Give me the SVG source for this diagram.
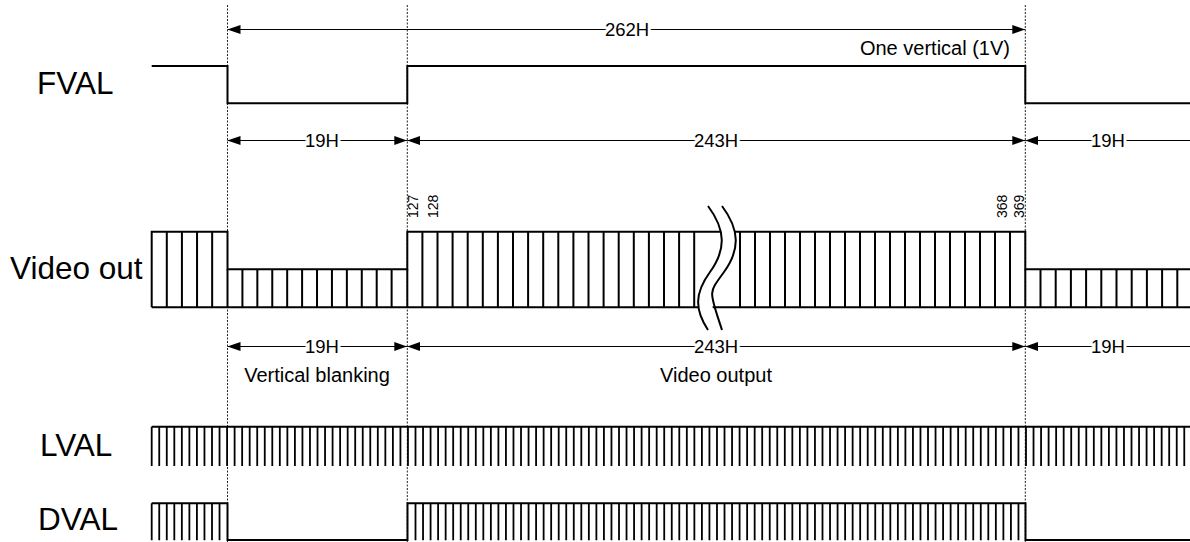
<svg xmlns="http://www.w3.org/2000/svg" width="1190" height="542" viewBox="0 0 1190 542">
<style>
.sig{fill:none;stroke:#000;stroke-width:2}
.tick{fill:none;stroke:#000;stroke-width:1.8}
.guide{fill:none;stroke:#222;stroke-width:1;stroke-dasharray:2 1.5}
.dim{fill:none;stroke:#000;stroke-width:1}
.lbl{font-family:"Liberation Sans",Arial,sans-serif;font-size:31.5px;fill:#000}
.dt{font-family:"Liberation Sans",Arial,sans-serif;font-size:18.5px;fill:#000;text-anchor:middle;stroke:#fff;stroke-width:6px;paint-order:stroke;stroke-linejoin:round}
.nt{font-family:"Liberation Sans",Arial,sans-serif;font-size:20px;fill:#000}
.num{font-family:"Liberation Sans",Arial,sans-serif;font-size:14px;fill:#000}
</style>
<defs>
<marker id="ah" viewBox="0 0 13 9" refX="13" refY="4.5" markerWidth="13" markerHeight="9" markerUnits="userSpaceOnUse" orient="auto-start-reverse">
<path d="M0,0 L13,4.5 L0,9 z" fill="#000"/>
</marker>
</defs>

<g id="guides">
<line class="guide" x1="227.5" y1="5" x2="227.5" y2="542"/>
<line class="guide" x1="407.3" y1="5" x2="407.3" y2="542"/>
<line class="guide" x1="1025.3" y1="5" x2="1025.3" y2="542"/>
</g>

<g id="labels">
<text class="lbl" x="37" y="94">FVAL</text>
<text class="lbl" x="10" y="279">Video out</text>
<text class="lbl" x="40" y="456">LVAL</text>
<text class="lbl" x="38" y="530">DVAL</text>
</g>

<g id="fval">
<path class="sig" d="M151.7,66 H227.5 V103.3 H407.3 V66 H1025.3 V103.3 H1190"/>
</g>

<g id="video">
<path class="sig" d="M151.7,307.3 V231.7 H227.5 V269.3 H407.3 V231.7 H1025.3 V269.3 H1190"/>
<path class="sig" d="M151.7,307.3 H1190"/>
<path class="sig" d="M227.5,269.3 V307.3 M407.3,269.3 V307.3 M1025.3,269.3 V307.3"/>
<path class="sig" d="M166.8,231.7 v75.6 m15.12,-75.6 v75.6 m15.12,-75.6 v75.6 m15.12,-75.6 v75.6"/>
<path class="sig" d="M242.42,269.3 v38 m14.92,-38 v38 m14.92,-38 v38 m14.92,-38 v38 m14.92,-38 v38 m14.92,-38 v38 m14.92,-38 v38 m14.92,-38 v38 m14.92,-38 v38 m14.92,-38 v38 m14.92,-38 v38"/>
<path class="sig" d="M422.4,231.7 v75.6 m15.1,-75.6 v75.6 m15.1,-75.6 v75.6 m15.1,-75.6 v75.6 m15.1,-75.6 v75.6 m15.1,-75.6 v75.6 m15.1,-75.6 v75.6 m15.1,-75.6 v75.6 m15.1,-75.6 v75.6 m15.1,-75.6 v75.6 m15.1,-75.6 v75.6 m15.1,-75.6 v75.6 m15.1,-75.6 v75.6 m15.1,-75.6 v75.6 m15.1,-75.6 v75.6 m15.1,-75.6 v75.6 m15.1,-75.6 v75.6 m15.1,-75.6 v75.6 m15.1,-75.6 v75.6"/>
<path class="sig" d="M740,231.7 v75.6 m15,-75.6 v75.6 m15,-75.6 v75.6 m15,-75.6 v75.6 m15,-75.6 v75.6 m15,-75.6 v75.6 m15,-75.6 v75.6 m15,-75.6 v75.6 m15,-75.6 v75.6 m15,-75.6 v75.6 m15,-75.6 v75.6 m15,-75.6 v75.6 m15,-75.6 v75.6 m15,-75.6 v75.6 m15,-75.6 v75.6 m15,-75.6 v75.6 m15,-75.6 v75.6 m15,-75.6 v75.6 m15,-75.6 v75.6"/>
<path class="sig" d="M1040.5,269.3 v38 m15.2,-38 v38 m15.2,-38 v38 m15.2,-38 v38 m15.2,-38 v38 m15.2,-38 v38 m15.2,-38 v38 m15.2,-38 v38 m15.2,-38 v38 m15.2,-38 v38"/>
<path d="M708,206 C726,230 726,250 710,272 S695,310 708,330 L722,330 C709,310 708,290 724,272 S740,230 722,206 Z" fill="#fff" stroke="none"/>
<path class="sig" d="M708,206 C726,230 726,250 710,272 S695,310 708,330"/>
<path class="sig" d="M722,206 C740,230 740,250 724,272 S709,290 722,330"/>
<text class="num" transform="translate(417.5,218) rotate(-90)">127</text>
<text class="num" transform="translate(437.5,218) rotate(-90)">128</text>
<text class="num" transform="translate(1007,218) rotate(-90)">368</text>
<text class="num" transform="translate(1024,218) rotate(-90)">369</text>
</g>

<g id="lval">
<path class="sig" d="M151.7,426.7 H1190"/>
<path class="tick" d="M151.7,426.7 v39.3 m7.537,-39.3 v39.3 m7.537,-39.3 v39.3 m7.537,-39.3 v39.3 m7.537,-39.3 v39.3 m7.537,-39.3 v39.3 m7.537,-39.3 v39.3 m7.537,-39.3 v39.3 m7.537,-39.3 v39.3 m7.537,-39.3 v39.3 m7.537,-39.3 v39.3 m7.537,-39.3 v39.3 m7.537,-39.3 v39.3 m7.537,-39.3 v39.3 m7.537,-39.3 v39.3 m7.537,-39.3 v39.3 m7.537,-39.3 v39.3 m7.537,-39.3 v39.3 m7.537,-39.3 v39.3 m7.537,-39.3 v39.3 m7.537,-39.3 v39.3 m7.537,-39.3 v39.3 m7.537,-39.3 v39.3 m7.537,-39.3 v39.3 m7.537,-39.3 v39.3 m7.537,-39.3 v39.3 m7.537,-39.3 v39.3 m7.537,-39.3 v39.3 m7.537,-39.3 v39.3 m7.537,-39.3 v39.3 m7.537,-39.3 v39.3 m7.537,-39.3 v39.3 m7.537,-39.3 v39.3 m7.537,-39.3 v39.3 m7.537,-39.3 v39.3 m7.537,-39.3 v39.3 m7.537,-39.3 v39.3 m7.537,-39.3 v39.3 m7.537,-39.3 v39.3 m7.537,-39.3 v39.3 m7.537,-39.3 v39.3 m7.537,-39.3 v39.3 m7.537,-39.3 v39.3 m7.537,-39.3 v39.3 m7.537,-39.3 v39.3 m7.537,-39.3 v39.3 m7.537,-39.3 v39.3 m7.537,-39.3 v39.3 m7.537,-39.3 v39.3 m7.537,-39.3 v39.3 m7.537,-39.3 v39.3 m7.537,-39.3 v39.3 m7.537,-39.3 v39.3 m7.537,-39.3 v39.3 m7.537,-39.3 v39.3 m7.537,-39.3 v39.3 m7.537,-39.3 v39.3 m7.537,-39.3 v39.3 m7.537,-39.3 v39.3 m7.537,-39.3 v39.3 m7.537,-39.3 v39.3 m7.537,-39.3 v39.3 m7.537,-39.3 v39.3 m7.537,-39.3 v39.3 m7.537,-39.3 v39.3 m7.537,-39.3 v39.3 m7.537,-39.3 v39.3 m7.537,-39.3 v39.3 m7.537,-39.3 v39.3 m7.537,-39.3 v39.3 m7.537,-39.3 v39.3 m7.537,-39.3 v39.3 m7.537,-39.3 v39.3 m7.537,-39.3 v39.3 m7.537,-39.3 v39.3 m7.537,-39.3 v39.3 m7.537,-39.3 v39.3 m7.537,-39.3 v39.3 m7.537,-39.3 v39.3 m7.537,-39.3 v39.3 m7.537,-39.3 v39.3 m7.537,-39.3 v39.3 m7.537,-39.3 v39.3 m7.537,-39.3 v39.3 m7.537,-39.3 v39.3 m7.537,-39.3 v39.3 m7.537,-39.3 v39.3 m7.537,-39.3 v39.3 m7.537,-39.3 v39.3 m7.537,-39.3 v39.3 m7.537,-39.3 v39.3 m7.537,-39.3 v39.3 m7.537,-39.3 v39.3 m7.537,-39.3 v39.3 m7.537,-39.3 v39.3 m7.537,-39.3 v39.3 m7.537,-39.3 v39.3 m7.537,-39.3 v39.3 m7.537,-39.3 v39.3 m7.537,-39.3 v39.3 m7.537,-39.3 v39.3 m7.537,-39.3 v39.3 m7.537,-39.3 v39.3 m7.537,-39.3 v39.3 m7.537,-39.3 v39.3 m7.537,-39.3 v39.3 m7.537,-39.3 v39.3 m7.537,-39.3 v39.3 m7.537,-39.3 v39.3 m7.537,-39.3 v39.3 m7.537,-39.3 v39.3 m7.537,-39.3 v39.3 m7.537,-39.3 v39.3 m7.537,-39.3 v39.3 m7.537,-39.3 v39.3 m7.537,-39.3 v39.3 m7.537,-39.3 v39.3 m7.537,-39.3 v39.3 m7.537,-39.3 v39.3 m7.537,-39.3 v39.3 m7.537,-39.3 v39.3 m7.537,-39.3 v39.3 m7.537,-39.3 v39.3 m7.537,-39.3 v39.3 m7.537,-39.3 v39.3 m7.537,-39.3 v39.3 m7.537,-39.3 v39.3 m7.537,-39.3 v39.3 m7.537,-39.3 v39.3 m7.537,-39.3 v39.3 m7.537,-39.3 v39.3 m7.537,-39.3 v39.3 m7.537,-39.3 v39.3 m7.537,-39.3 v39.3 m7.537,-39.3 v39.3 m7.537,-39.3 v39.3 m7.537,-39.3 v39.3 m7.537,-39.3 v39.3 m7.537,-39.3 v39.3 m7.537,-39.3 v39.3 m7.537,-39.3 v39.3"/>
</g>

<g id="dval">
<path class="sig" d="M151.7,503.3 H227.5 V540 H407.5 V503.3 H1025.5 V540 H1190"/>
<path class="tick" d="M151.7,503.3 v37 m7.537,-37 v37 m7.537,-37 v37 m7.537,-37 v37 m7.537,-37 v37 m7.537,-37 v37 m7.537,-37 v37 m7.537,-37 v37 m7.537,-37 v37 m7.537,-37 v37"/>
<path class="tick" d="M415.5,503.3 v37
m7.537,-37 v37 m7.537,-37 v37 m7.537,-37 v37 m7.537,-37 v37 m7.537,-37 v37 m7.537,-37 v37 m7.537,-37 v37 m7.537,-37 v37 m7.537,-37 v37 m7.537,-37 v37
m7.537,-37 v37 m7.537,-37 v37 m7.537,-37 v37 m7.537,-37 v37 m7.537,-37 v37 m7.537,-37 v37 m7.537,-37 v37 m7.537,-37 v37 m7.537,-37 v37 m7.537,-37 v37
m7.537,-37 v37 m7.537,-37 v37 m7.537,-37 v37 m7.537,-37 v37 m7.537,-37 v37 m7.537,-37 v37 m7.537,-37 v37 m7.537,-37 v37 m7.537,-37 v37 m7.537,-37 v37
m7.537,-37 v37 m7.537,-37 v37 m7.537,-37 v37 m7.537,-37 v37 m7.537,-37 v37 m7.537,-37 v37 m7.537,-37 v37 m7.537,-37 v37 m7.537,-37 v37 m7.537,-37 v37
m7.537,-37 v37 m7.537,-37 v37 m7.537,-37 v37 m7.537,-37 v37 m7.537,-37 v37 m7.537,-37 v37 m7.537,-37 v37 m7.537,-37 v37 m7.537,-37 v37 m7.537,-37 v37
m7.537,-37 v37 m7.537,-37 v37 m7.537,-37 v37 m7.537,-37 v37 m7.537,-37 v37 m7.537,-37 v37 m7.537,-37 v37 m7.537,-37 v37 m7.537,-37 v37 m7.537,-37 v37
m7.537,-37 v37 m7.537,-37 v37 m7.537,-37 v37 m7.537,-37 v37 m7.537,-37 v37 m7.537,-37 v37 m7.537,-37 v37 m7.537,-37 v37 m7.537,-37 v37 m7.537,-37 v37
m7.537,-37 v37 m7.537,-37 v37 m7.537,-37 v37 m7.537,-37 v37 m7.537,-37 v37 m7.537,-37 v37 m7.537,-37 v37 m7.537,-37 v37 m7.537,-37 v37 m7.537,-37 v37"/>
</g>

<g id="connectors">
<line class="dim" x1="227.5" y1="29.5" x2="1025.3" y2="29.5" marker-start="url(#ah)" marker-end="url(#ah)"/>
<line class="dim" x1="227.5" y1="140.5" x2="407.3" y2="140.5" marker-start="url(#ah)" marker-end="url(#ah)"/>
<line class="dim" x1="407.3" y1="140.5" x2="1025.3" y2="140.5" marker-start="url(#ah)" marker-end="url(#ah)"/>
<line class="dim" x1="1025.3" y1="140.5" x2="1190" y2="140.5" marker-start="url(#ah)"/>
<line class="dim" x1="227.5" y1="346.5" x2="407.3" y2="346.5" marker-start="url(#ah)" marker-end="url(#ah)"/>
<line class="dim" x1="407.3" y1="346.5" x2="1025.3" y2="346.5" marker-start="url(#ah)" marker-end="url(#ah)"/>
<line class="dim" x1="1025.3" y1="346.5" x2="1190" y2="346.5" marker-start="url(#ah)"/>
</g>

<g id="dim-labels">
<text class="dt" x="627" y="36">262H</text>
<text class="nt" x="1010" y="55" text-anchor="end">One vertical (1V)</text>
<text class="dt" x="322" y="147">19H</text>
<text class="dt" x="716" y="147">243H</text>
<text class="dt" x="1108" y="147">19H</text>
<text class="dt" x="322" y="353">19H</text>
<text class="dt" x="716" y="353">243H</text>
<text class="dt" x="1108" y="353">19H</text>
<text class="nt" x="317" y="382" text-anchor="middle">Vertical blanking</text>
<text class="nt" x="716" y="382" text-anchor="middle">Video output</text>
</g>
</svg>
